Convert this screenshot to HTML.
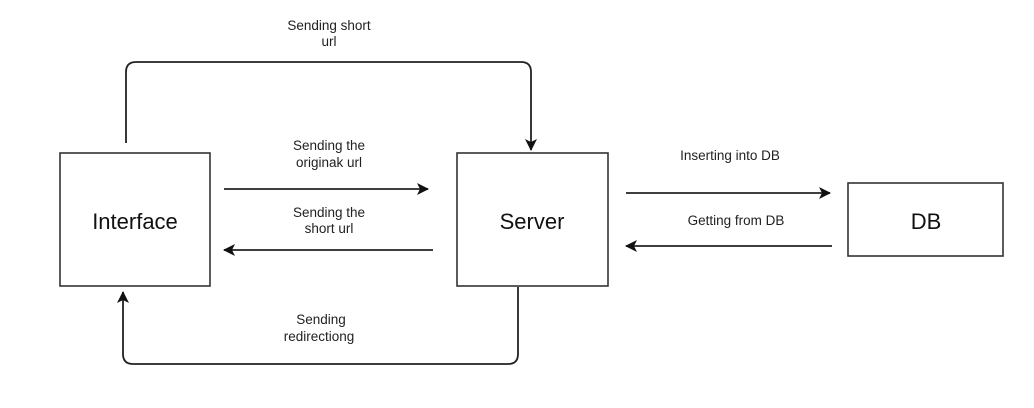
<!DOCTYPE html>
<html><head><style>
body{margin:0;background:#fff;}
svg text{font-family:"Liberation Sans",sans-serif;fill:#222;}
</style></head><body>
<svg width="1034" height="403" xmlns="http://www.w3.org/2000/svg">
<defs><marker id="a" markerWidth="12" markerHeight="12" refX="11" refY="6" orient="auto" markerUnits="userSpaceOnUse"><path d="M0,0 L12,6 L0,12 L3,6 Z" fill="#111"/></marker></defs>
<g fill="none" stroke="#333" stroke-width="1.6">
<rect x="60" y="153" width="150" height="133"/>
<rect x="457" y="153" width="151" height="133"/>
<rect x="848" y="183" width="155" height="73"/>
</g>
<g fill="none" stroke="#222" stroke-width="1.8">
<path d="M126,143 V72 Q126,62 136,62 H521 Q531,62 531,72 V150" marker-end="url(#a)"/>
<path d="M518,287 V354 Q518,364 508,364 H133 Q123,364 123,354 V292" marker-end="url(#a)"/>
<path d="M224,189 H428" marker-end="url(#a)"/>
<path d="M433,250 H224" marker-end="url(#a)"/>
<path d="M626,193 H830" marker-end="url(#a)"/>
<path d="M832,246 H626" marker-end="url(#a)"/>
</g>
<g font-size="22" text-anchor="middle">
<text x="135" y="229" style="fill:#111">Interface</text>
<text x="532" y="229" style="fill:#111">Server</text>
<text x="926" y="229" style="fill:#111">DB</text>
</g>
<g font-size="13.5" text-anchor="middle">
<text x="329" y="30">Sending short</text><text x="329" y="46">url</text>
<text x="329" y="150">Sending the</text><text x="329" y="167">originak url</text>
<text x="329" y="217">Sending the</text><text x="329" y="233">short url</text>
<text x="321" y="324">Sending</text><text x="319" y="341">redirectiong</text>
<text x="730" y="160">Inserting into DB</text>
<text x="736" y="225">Getting from DB</text>
</g>
</svg>
</body></html>
